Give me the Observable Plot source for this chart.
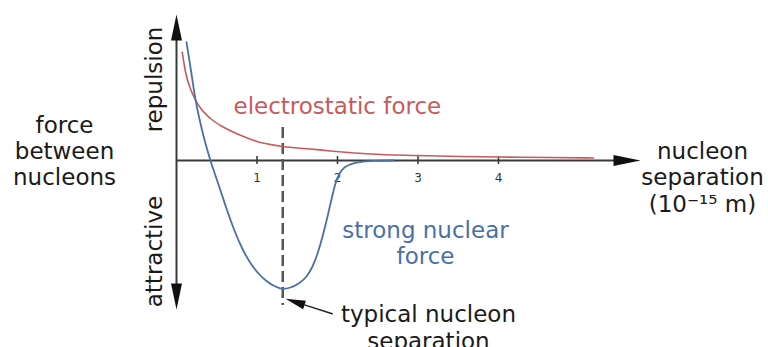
<!DOCTYPE html>
<html><head><meta charset="utf-8">
<script src="https://cdn.jsdelivr.net/npm/d3@7"></script>
<script src="https://cdn.jsdelivr.net/npm/@observablehq/plot@0.6"></script>
<style>body{margin:0;background:#fff} svg{display:block}</style>
</head><body><div id="chart"></div>
<script>
// nucleon separation in 10^-15 m, force in arbitrary units (positive = repulsion)
const strongX = [0.124, 0.174, 0.236, 0.298, 0.360, 0.422, 0.522, 0.621, 0.720, 0.820, 0.919, 1.019, 1.118, 1.217, 1.320, 1.416, 1.516, 1.615, 1.689, 1.752, 1.814, 1.876, 1.925, 1.975, 2.025, 2.087, 2.161, 2.286, 2.472, 2.696];
const strongY = [118.3, 93, 61, 37, 17, 0, -24, -48, -70, -88.5, -102.5, -113, -120.5, -125.5, -128.3, -127, -123, -116, -106, -93, -76, -56, -39, -23, -13, -7, -3.8, -1.5, -0.4, 0];
const electroX = [0.071, 0.112, 0.174, 0.236, 0.298, 0.422, 0.547, 0.671, 0.795, 0.981, 1.317, 1.665, 1.913, 2.410, 2.969, 3.528, 4.025, 4.646, 5.180];
const electroY = [108.3, 88.5, 71.5, 60.5, 52.5, 42, 35, 29.8, 25.2, 19.5, 14, 11.5, 9.5, 6.5, 5, 4, 3.5, 3, 2.5];
const xTicks = [1, 2, 3, 4];
const typicalSeparation = 1.32;

const toRows = (xs, ys) => xs.map((x, i) => ({x, y: ys[i]}));

// filled arrow head symbol pointing in direction angle (deg, screen coords)
function head(angleDeg, len, half) {
  const a = angleDeg * Math.PI / 180, ux = Math.cos(a), uy = Math.sin(a);
  return {draw(ctx) {
    const bx = -ux * len, by = -uy * len, px = -uy * half, py = ux * half;
    ctx.moveTo(0, 0); ctx.lineTo(bx + px, by + py); ctx.lineTo(bx - px, by - py); ctx.closePath();
  }};
}

const axisColor = "#3a3a3a";
const red = "#c85a5e", blue = "#4a70a8";
const textFont = 23;

const chart = Plot.plot({
  width: 768, height: 347,
  x: {type: "linear", domain: [0, 4], range: [176, 498], axis: null},
  y: {type: "linear", domain: [-150, 150], range: [310, 10], axis: null},
  style: {fontFamily: "DejaVu Sans", background: "white", color: "#1a1a1a"},
  marks: [
    // axes
    Plot.ruleY([0], {x1: 0, x2: 5.45, stroke: axisColor, strokeWidth: 2}),
    Plot.ruleX([0], {y1: -125, y2: 122, stroke: axisColor, strokeWidth: 2}),
    Plot.dot([{x: 5.764, y: 0}], {x: "x", y: "y", symbol: head(0, 27, 5.5), fill: "#111", stroke: "none"}),
    Plot.dot([{x: 0, y: 146}], {x: "x", y: "y", symbol: head(-90, 26, 5.5), fill: "#111", stroke: "none"}),
    Plot.dot([{x: 0, y: -149}], {x: "x", y: "y", symbol: head(90, 26, 5.5), fill: "#111", stroke: "none"}),
    // ticks
    Plot.ruleX(xTicks, {y1: -4, y2: 4, stroke: axisColor, strokeWidth: 1.6}),
    Plot.text(xTicks, {x: d => d, y: d => 0, dy: 18, text: d => String(d), fontSize: 12, fill: "#333"}),
    // typical separation
    Plot.ruleX([typicalSeparation], {y1: 33, y2: -145, stroke: "#555", strokeWidth: 2.5, strokeDasharray: "11,5"}),
    // curves
    Plot.line(toRows(electroX, electroY), {x: "x", y: "y", curve: "monotone-x", stroke: red, strokeWidth: 1.6}),
    Plot.line(toRows(strongX, strongY), {x: "x", y: "y", curve: "monotone-x", stroke: blue, strokeWidth: 1.8}),
    // pointer arrow
    Plot.line([{x: 1.934, y: -153.3}, {x: 1.59, y: -144.4}], {x: "x", y: "y", stroke: "#222", strokeWidth: 1.5}),
    Plot.dot([{x: 1.354, y: -138.3}], {x: "x", y: "y", symbol: head(-162, 20, 4.5), fill: "#111", stroke: "none"}),
    // labels
    Plot.text([{t: "electrostatic force", x: 0.708, y: 54}], {x: "x", y: "y", text: "t", textAnchor: "start", fontSize: textFont, fill: red}),
    Plot.text([{t: "strong nuclear\nforce", x: 3.093, y: -82.5}], {x: "x", y: "y", text: "t", fontSize: textFont, lineHeight: 1.1, fill: blue}),
    Plot.text([{t: "typical nucleon\nseparation", x: 3.13, y: -166}], {x: "x", y: "y", text: "t", fontSize: textFont, lineHeight: 1.17, fill: "#1a1a1a"}),
    Plot.text([{t: "force\nbetween\nnucleons", x: -1.391, y: 10}], {x: "x", y: "y", text: "t", fontSize: textFont, lineHeight: 1.15, fill: "#1a1a1a"}),
    Plot.text([{t: "nucleon\nseparation\n(10⁻¹⁵ m)", x: 6.534, y: -16.5}], {x: "x", y: "y", text: "t", fontSize: textFont, lineHeight: 1.15, fill: "#1a1a1a"}),
    Plot.text([{t: "repulsion", x: -0.273, y: 81}], {x: "x", y: "y", text: "t", rotate: -90, fontSize: textFont, fill: "#1a1a1a"}),
    Plot.text([{t: "attractive", x: -0.273, y: -91}], {x: "x", y: "y", text: "t", rotate: -90, fontSize: textFont, fill: "#1a1a1a"})
  ]
});
document.getElementById("chart").append(chart);
</script></body></html>
